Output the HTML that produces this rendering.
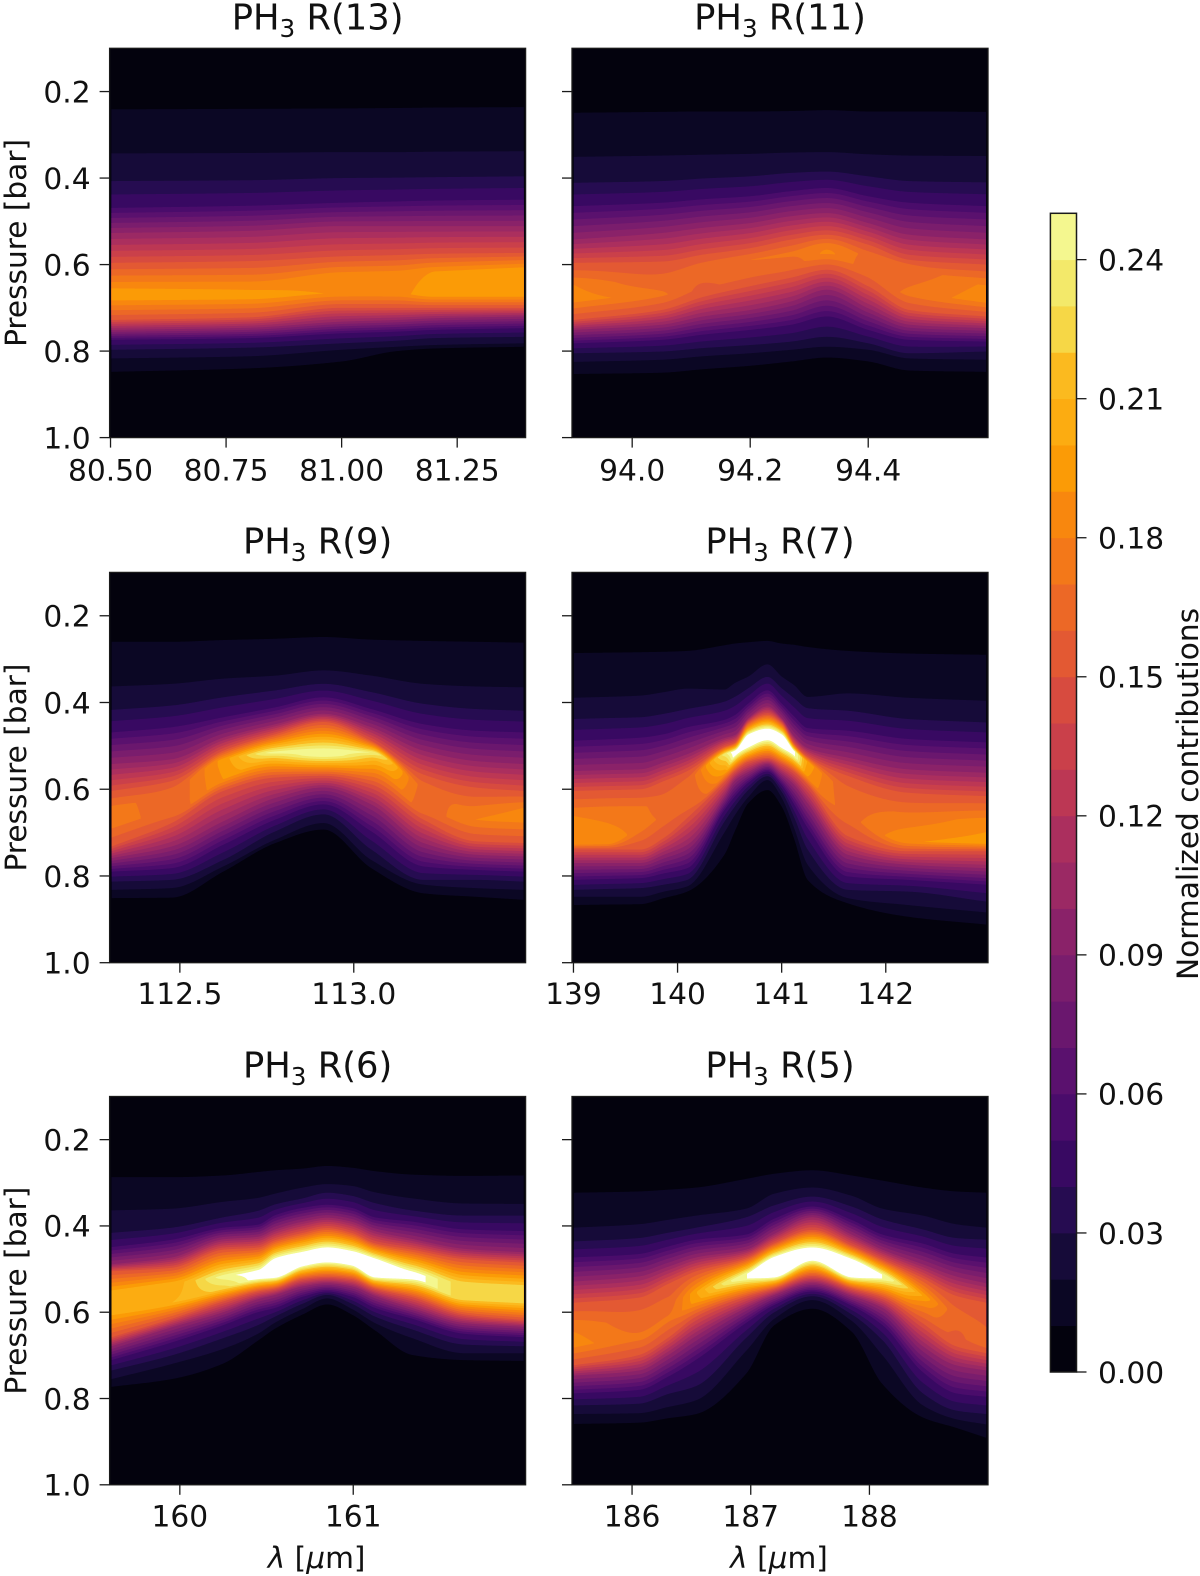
<!DOCTYPE html>
<html lang="en">
<head>
<meta charset="utf-8">
<title>PH3 contribution functions</title>
<style>
html,body{margin:0;padding:0;background:#fff;}
svg{display:block;filter:blur(0.35px);}
text{font-family:"DejaVu Sans","Liberation Sans",sans-serif;fill:#111;}
</style>
</head>
<body>
<svg id="figure" xmlns="http://www.w3.org/2000/svg" width="1200" height="1576" viewBox="0 0 1200 1576"></svg>
<script>
// Shared axis data
const yTicks = [0.2, 0.4, 0.6, 0.8, 1.0];
const yTickLabels = ['0.2', '0.4', '0.6', '0.8', '1.0'];
const yLim = [0.1, 1.0];
const colorTicks = [0, 0.03, 0.06, 0.09, 0.12, 0.15, 0.18, 0.21, 0.24];
const colorTickLabels = ['0.00', '0.03', '0.06', '0.09', '0.12', '0.15', '0.18', '0.21', '0.24'];
const bandWidth = 0.01;
const bandCount = 25;
const bandColors = ['#03020d','#0b0724','#160b39','#260c51','#380962','#4a0c6b','#5a116e','#6a176e','#7a1d6d','#8a2269','#9b2964','#ab2f5e','#bc3754','#ca404a','#d74b3f','#e35933','#ec6826','#f37819','#f8870e','#fb9b06','#fcac11','#fbba1f','#f6d746','#f3e96a','#f4f78f'];

// Each profile row for one wavelength column:
// pressure where the contribution rises through 0.01,0.02,0.03,0.05,0.10,0.15,
// then ridge-top pressure, ridge-top value, ridge-bottom pressure, ridge-bottom value,
// then pressure where it falls through 0.15,0.10,0.05,0.03,0.02,0.01.
const r13Wavelengths = [80.502, 80.8, 81.0, 81.12, 81.2, 81.394];
const r13Profiles = [
[.241,.343,.407,.469,.527,.596,.655,.19,.675,.197,.728,.751,.774,.797,.817,.848],
[.240,.342,.405,.464,.522,.592,.652,.188,.675,.195,.722,.746,.770,.792,.812,.84],
[.239,.34,.40,.457,.511,.581,.62,.182,.666,.189,.70,.732,.759,.782,.797,.824],
[.238,.34,.399,.454,.511,.578,.618,.183,.668,.187,.70,.728,.755,.776,.79,.80],
[.237,.339,.398,.452,.511,.575,.616,.19,.67,.197,.70,.724,.751,.77,.786,.794],
[.236,.338,.396,.45,.511,.573,.608,.192,.67,.197,.70,.72,.747,.767,.782,.79]
];
const r13XTicks = [80.5, 80.75, 81.0, 81.25];
const r13XTickLabels = ['80.50', '80.75', '81.00', '81.25'];
const r13XLim = [80.498, 81.398];

const r11Wavelengths = [93.901, 94.05, 94.12, 94.2, 94.27, 94.33, 94.4, 94.47, 94.5996];
const r11Profiles = [
[.249,.351,.411,.465,.542,.596,.647,.18,.681,.185,.728,.751,.782,.805,.825,.853],
[.247,.348,.407,.457,.527,.593,.63,.163,.67,.172,.705,.739,.774,.801,.82,.85],
[.246,.346,.401,.449,.515,.577,.604,.165,.658,.158,.675,.72,.762,.793,.812,.842],
[.246,.344,.396,.442,.504,.562,.589,.17,.62,.165,.65,.705,.751,.786,.805,.834],
[.245,.341,.388,.43,.488,.542,.573,.172,.604,.165,.63,.685,.739,.778,.797,.824],
[.243,.34,.385,.423,.481,.531,.558,.178,.573,.182,.612,.658,.72,.767,.79,.815],
[.246,.345,.396,.442,.504,.554,.581,.168,.62,.165,.65,.701,.751,.782,.797,.824],
[.246,.348,.407,.457,.531,.589,.604,.165,.67,.172,.705,.739,.774,.805,.817,.845],
[.247,.349,.41,.465,.542,.60,.651,.182,.681,.187,.72,.747,.778,.801,.82,.848]
];
const r11XTicks = [94.0, 94.2, 94.4];
const r11XTickLabels = ['94.0', '94.2', '94.4'];
const r11XLim = [93.898, 94.603];

const r9Wavelengths = [112.304, 112.476, 112.625, 112.775, 112.913, 113.05, 113.2, 113.35, 113.488];
const r9Profiles = [
[.26,.363,.417,.469,.542,.604,.647,.175,.674,.178,.732,.759,.79,.813,.832,.851],
[.26,.357,.407,.457,.531,.581,.604,.165,.658,.165,.678,.732,.782,.809,.828,.85],
[.256,.345,.388,.434,.481,.511,.531,.195,.577,.19,.604,.674,.728,.763,.778,.79],
[.253,.338,.372,.411,.45,.473,.515,.245,.528,.22,.573,.62,.67,.697,.716,.724],
[.249,.326,.357,.388,.426,.445,.512,.249,.521,.249,.569,.596,.635,.658,.678,.693],
[.255,.338,.376,.415,.457,.488,.515,.24,.53,.215,.589,.635,.697,.739,.763,.782],
[.258,.357,.403,.45,.511,.566,.596,.168,.651,.165,.67,.724,.778,.809,.82,.84],
[.26,.363,.415,.465,.535,.596,.643,.172,.67,.18,.72,.751,.786,.809,.828,.848],
[.262,.365,.419,.469,.542,.604,.643,.18,.666,.187,.724,.755,.79,.813,.832,.855]
];
const r9XTicks = [112.5, 113.0];
const r9XTickLabels = ['112.5', '113.0'];
const r9XLim = [112.298, 113.494];

const r7Wavelengths = [139.005, 139.32, 139.645, 139.87, 140.094, 140.45, 140.55, 140.68, 140.864, 141.0, 141.12, 141.249, 141.634, 142.211, 142.963];
const r7Profiles = [
[.286,.389,.438,.488,.558,.604,.662,.18,.724,.19,.739,.77,.809,.832,.848,.867],
[.285,.387,.436,.485,.556,.602,.651,.176,.724,.187,.739,.77,.807,.83,.848,.866],
[.284,.384,.434,.481,.554,.60,.643,.172,.689,.175,.739,.77,.805,.828,.848,.865],
[.283,.376,.426,.473,.538,.581,.625,.165,.662,.168,.712,.751,.794,.82,.836,.851],
[.281,.368,.415,.457,.519,.558,.581,.165,.643,.163,.666,.728,.782,.809,.824,.836],
[.268,.37,.398,.44,.482,.502,.519,.235,.565,.19,.583,.617,.648,.675,.70,.751],
[.264,.355,.387,.429,.475,.493,.512,.255,.522,.255,.558,.58,.617,.64,.66,.697],
[.261,.34,.367,.402,.436,.447,.475,.255,.502,.255,.537,.56,.585,.602,.618,.632],
[.258,.312,.341,.372,.409,.428,.462,.255,.485,.255,.528,.542,.559,.57,.579,.602],
[.264,.34,.367,.402,.436,.447,.475,.255,.503,.255,.542,.565,.59,.606,.62,.64],
[.267,.36,.39,.432,.478,.495,.512,.252,.522,.252,.56,.59,.635,.665,.69,.715],
[.272,.387,.413,.459,.505,.525,.537,.20,.571,.19,.59,.632,.689,.739,.774,.809],
[.281,.379,.419,.465,.527,.569,.604,.165,.658,.168,.708,.751,.801,.832,.851,.863],
[.287,.389,.438,.484,.554,.608,.658,.172,.72,.188,.743,.774,.809,.836,.867,.894],
[.29,.396,.446,.492,.562,.616,.674,.185,.724,.195,.743,.782,.82,.859,.884,.912]
];
const r7XTicks = [139, 140, 141, 142];
const r7XTickLabels = ['139', '140', '141', '142'];
const r7XLim = [138.986, 142.982];

const r6Wavelengths = [159.606, 159.954, 160.25, 160.45, 160.55, 160.71, 160.85, 160.99, 161.125, 161.34, 161.64, 161.983];
const r6Profiles = [
[.287,.364,.416,.449,.489,.505,.554,.205,.602,.205,.658,.679,.711,.735,.755,.773],
[.287,.36,.404,.432,.473,.497,.533,.205,.578,.21,.615,.635,.67,.70,.72,.755],
[.283,.344,.38,.404,.431,.455,.517,.245,.545,.225,.575,.60,.63,.66,.685,.719],
[.275,.335,.365,.397,.425,.45,.505,.255,.522,.255,.552,.57,.60,.63,.65,.666],
[.271,.325,.35,.375,.408,.433,.477,.255,.519,.255,.545,.56,.59,.61,.624,.638],
[.267,.311,.336,.358,.39,.416,.462,.255,.492,.255,.523,.54,.564,.58,.592,.605],
[.261,.303,.323,.351,.381,.405,.452,.255,.483,.255,.518,.533,.552,.56,.568,.582],
[.265,.307,.33,.358,.39,.416,.46,.255,.49,.255,.523,.54,.564,.58,.592,.605],
[.273,.322,.347,.38,.412,.44,.477,.255,.518,.255,.545,.562,.59,.61,.625,.642],
[.281,.336,.364,.39,.43,.455,.508,.255,.522,.255,.565,.59,.615,.64,.66,.699],
[.284,.348,.376,.408,.453,.477,.533,.225,.57,.225,.605,.625,.65,.675,.695,.711],
[.283,.349,.376,.412,.461,.485,.541,.225,.574,.23,.618,.634,.658,.679,.695,.713]
];
const r6XTicks = [160, 161];
const r6XTickLabels = ['160', '161'];
const r6XLim = [159.595, 161.994];

const r5Wavelengths = [185.51, 186.06, 186.3, 186.54, 186.96, 187.2, 187.52, 187.85, 188.11, 188.45, 188.73, 188.983];
const r5Profiles = [
[.323,.404,.436,.473,.529,.578,.634,.178,.675,.185,.723,.747,.788,.816,.836,.859],
[.32,.396,.428,.465,.517,.566,.61,.165,.662,.172,.699,.735,.78,.812,.834,.856],
[.316,.386,.416,.448,.495,.535,.58,.165,.62,.172,.66,.70,.75,.79,.82,.846],
[.311,.376,.404,.432,.473,.505,.554,.20,.574,.195,.61,.655,.71,.771,.804,.836],
[.291,.36,.38,.42,.455,.475,.512,.25,.522,.25,.564,.59,.625,.66,.69,.743],
[.279,.325,.352,.383,.418,.44,.473,.255,.518,.255,.545,.56,.583,.60,.615,.63],
[.271,.311,.332,.355,.38,.409,.452,.255,.479,.255,.516,.533,.552,.563,.572,.592],
[.283,.33,.355,.386,.42,.445,.478,.255,.518,.255,.545,.562,.585,.605,.62,.645],
[.295,.36,.385,.42,.455,.478,.513,.25,.522,.25,.565,.59,.63,.665,.70,.767],
[.311,.376,.408,.441,.489,.521,.562,.20,.586,.18,.626,.679,.739,.788,.816,.844],
[.32,.396,.428,.465,.517,.562,.602,.165,.658,.158,.679,.723,.788,.828,.848,.868],
[.323,.404,.432,.473,.533,.578,.634,.16,.67,.17,.695,.735,.796,.836,.86,.891]
];
const r5XTicks = [186, 187, 188];
const r5XTickLabels = ['186', '187', '188'];
const r5XLim = [185.494, 188.999];

// Level of each profile row entry that is a fixed-level crossing
const riseLevels = [0.01, 0.02, 0.03, 0.05, 0.10, 0.15];
const fallLevels = [0.15, 0.10, 0.05, 0.03, 0.02, 0.01];

const panels = [
  {id:'r13', title:'R(13)', wavelengths:r13Wavelengths, profiles:r13Profiles, xTicks:r13XTicks, xTickLabels:r13XTickLabels, xLim:r13XLim, left:109.6, top:48.3, bottom:437.6, yLabels:true, xTitle:false, xLabelGap:43},
  {id:'r11', title:'R(11)', wavelengths:r11Wavelengths, profiles:r11Profiles, xTicks:r11XTicks, xTickLabels:r11XTickLabels, xLim:r11XLim, left:572, top:48.3, bottom:437.6, yLabels:false, xTitle:false, xLabelGap:43},
  {id:'r9', title:'R(9)', wavelengths:r9Wavelengths, profiles:r9Profiles, xTicks:r9XTicks, xTickLabels:r9XTickLabels, xLim:r9XLim, left:109.6, top:572.4, bottom:962.7, yLabels:true, xTitle:false, xLabelGap:41.5},
  {id:'r7', title:'R(7)', wavelengths:r7Wavelengths, profiles:r7Profiles, xTicks:r7XTicks, xTickLabels:r7XTickLabels, xLim:r7XLim, left:572, top:572.4, bottom:962.7, yLabels:false, xTitle:false, xLabelGap:41.5},
  {id:'r6', title:'R(6)', wavelengths:r6Wavelengths, profiles:r6Profiles, xTicks:r6XTicks, xTickLabels:r6XTickLabels, xLim:r6XLim, left:109.6, top:1096.5, bottom:1484.8, yLabels:true, xTitle:true, xLabelGap:41.5},
  {id:'r5', title:'R(5)', wavelengths:r5Wavelengths, profiles:r5Profiles, xTicks:r5XTicks, xTickLabels:r5XTickLabels, xLim:r5XLim, left:572, top:1096.5, bottom:1484.8, yLabels:false, xTitle:true, xLabelGap:41.5}
];

const NS = 'http://www.w3.org/2000/svg';
const figure = document.getElementById('figure');
const AXIS_W = 416;
const TICK_FONT = 29.7;
const TITLE_FONT = 35.3;
const LABEL_FONT = 29.6;
const INK = '#1a1a1a';

function el(tag, parent, attrs) {
  const node = document.createElementNS(NS, tag);
  for (const k in attrs) node.setAttribute(k, attrs[k]);
  parent.appendChild(node);
  return node;
}

// Monotone cubic interpolation along wavelength
function tangents(xs, ys) {
  const n = xs.length, d = [], m = new Array(n).fill(0);
  for (let i = 0; i < n - 1; i++) d.push((ys[i + 1] - ys[i]) / (xs[i + 1] - xs[i]));
  m[0] = d[0]; m[n - 1] = d[n - 2];
  for (let i = 1; i < n - 1; i++) {
    if (d[i - 1] * d[i] <= 0) { m[i] = 0; continue; }
    const h0 = xs[i] - xs[i - 1], h1 = xs[i + 1] - xs[i];
    m[i] = (h0 + h1) * 3 / ((2 * h1 + h0) / d[i - 1] + (h1 + 2 * h0) / d[i]);
  }
  return m;
}
function hermite(xs, ys, ms, x) {
  let i = 0;
  while (i < xs.length - 2 && x > xs[i + 1]) i++;
  const h = xs[i + 1] - xs[i], t = Math.max(0, Math.min(1, (x - xs[i]) / h));
  const t2 = t * t, t3 = t2 * t;
  return (2 * t3 - 3 * t2 + 1) * ys[i] + (t3 - 2 * t2 + t) * h * ms[i] + (-2 * t3 + 3 * t2) * ys[i + 1] + (t3 - t2) * h * ms[i + 1];
}

// Build the (pressure, value) polyline of one column from an interpolated row
function columnProfile(row) {
  const pts = [];
  let last = -1;
  function push(p, v) { p = Math.max(p, last + 1e-4); last = p; pts.push([p, v]); }
  riseLevels.forEach(function (lv, i) { push(row[i], lv); });
  push(row[6], row[7]);
  push(row[8], row[9]);
  fallLevels.forEach(function (lv, i) { push(row[10 + i], lv); });
  return pts;
}
// Pressure interval where the column value reaches a level
function levelInterval(pts, level) {
  let a = -1, b = -1;
  for (let i = 0; i < pts.length; i++) {
    if (pts[i][1] >= level - 1e-9) { a = i; break; }
  }
  if (a < 0) return null;
  for (let i = pts.length - 1; i >= 0; i--) {
    if (pts[i][1] >= level - 1e-9) { b = i; break; }
  }
  function cross(i, j) {
    const t = (level - pts[i][1]) / (pts[j][1] - pts[i][1]);
    return pts[i][0] + t * (pts[j][0] - pts[i][0]);
  }
  const pa = a === 0 ? pts[0][0] : cross(a - 1, a);
  const pb = b === pts.length - 1 ? pts[b][0] : cross(b + 1, b);
  return [pa, pb];
}

function drawPanel(panel) {
  const xScale = function (w) { return panel.left + (w - panel.xLim[0]) / (panel.xLim[1] - panel.xLim[0]) * AXIS_W; };
  const yScale = function (p) { return panel.top + (p - yLim[0]) / (yLim[1] - yLim[0]) * (panel.bottom - panel.top); };

  const g = el('g', figure, {});
  
  

  const bg = el('rect', g, {x: panel.left, y: panel.top, width: AXIS_W, height: panel.bottom - panel.top, fill: bandColors[0]});
  
  

  // Columns across the wavelength range
  const w0 = panel.wavelengths[0], w1 = panel.wavelengths[panel.wavelengths.length - 1];
  const series = [];
  for (let j = 0; j < panel.profiles[0].length; j++) {
    const ys = panel.profiles.map(function (r) { return r[j]; });
    series.push({ys: ys, ms: tangents(panel.wavelengths, ys)});
  }
  const nCols = Math.max(2, Math.round(xScale(w1) - xScale(w0)));
  const columns = [];
  for (let c = 0; c <= nCols; c++) {
    const w = w0 + (w1 - w0) * c / nCols;
    const row = series.map(function (s) { return hermite(panel.wavelengths, s.ys, s.ms, w); });
    columns.push({w: w, pts: columnProfile(row)});
  }

  // Filled contour bands painted from the lowest level upward
  for (let i = 1; i <= bandCount; i++) {
    const level = i * bandWidth;
    let d = '';
    let upper = [], lower = [];
    const flush = function () {
      if (upper.length > 1) {
        d += 'M' + upper.join('L') + 'L' + lower.reverse().join('L') + 'Z';
      }
      upper = []; lower = [];
    };
    columns.forEach(function (col) {
      const iv = levelInterval(col.pts, level);
      if (!iv) { flush(); return; }
      const x = xScale(col.w).toFixed(1);
      upper.push(x + ' ' + yScale(iv[0]).toFixed(2));
      lower.push(x + ' ' + yScale(iv[1]).toFixed(2));
    });
    flush();
    if (!d) continue;
    const path = el('path', g, {d: d, fill: i < bandCount ? bandColors[i] : '#ffffff'});
    
    
  }

  const frame = el('rect', g, {x: panel.left, y: panel.top, width: AXIS_W, height: panel.bottom - panel.top, fill: 'none', stroke: INK, 'stroke-width': 1.3});
  
  

  // Y ticks
  yTicks.forEach(function (p, i) {
    const y = yScale(p);
    const tick = el('line', g, {x1: panel.left - 10, x2: panel.left, y1: y, y2: y, stroke: INK, 'stroke-width': 1.3});
    
    
    if (panel.yLabels) {
      const t = el('text', g, {x: panel.left - 19, y: y + 10.8, 'text-anchor': 'end', 'font-size': TICK_FONT});
      t.textContent = yTickLabels[i];
      
      
    }
  });

  // X ticks
  panel.xTicks.forEach(function (w, i) {
    const x = xScale(w);
    const tick = el('line', g, {x1: x, x2: x, y1: panel.bottom, y2: panel.bottom + 10, stroke: INK, 'stroke-width': 1.3});
    
    
    const t = el('text', g, {x: x, y: panel.bottom + panel.xLabelGap, 'text-anchor': 'middle', 'font-size': TICK_FONT});
    t.textContent = panel.xTickLabels[i];
    
    
  });

  // Title
  const title = el('text', g, {x: panel.left + AXIS_W / 2, y: panel.top - 19, 'text-anchor': 'middle', 'font-size': TITLE_FONT});
  
  
  const t1 = el('tspan', title, {});
  t1.textContent = 'PH';
  const t2 = el('tspan', title, {dy: 7.5, 'font-size': TITLE_FONT * 0.7});
  t2.textContent = '3';
  const t3 = el('tspan', title, {dy: -7.5});
  t3.textContent = ' ' + panel.title;

  // Axis titles
  if (panel.yLabels) {
    const cy = (panel.top + panel.bottom) / 2;
    const yl = el('text', g, {x: 0, y: 0, 'text-anchor': 'middle', 'font-size': LABEL_FONT, transform: 'translate(26 ' + cy + ') rotate(-90)'});
    yl.textContent = 'Pressure [bar]';
    
    
  }
  if (panel.xTitle) {
    const xl = el('text', g, {x: panel.left + AXIS_W / 2 - 1, y: panel.bottom + 83, 'text-anchor': 'middle', 'font-size': LABEL_FONT});
    
    
    const a = el('tspan', xl, {'font-style': 'italic'});
    a.textContent = 'λ';
    const b = el('tspan', xl, {});
    b.textContent = ' [';
    const c = el('tspan', xl, {'font-style': 'italic'});
    c.textContent = 'μ';
    const e = el('tspan', xl, {});
    e.textContent = 'm]';
  }
}

panels.forEach(drawPanel);

// Colorbar
(function () {
  const cbLeft = 1050.4, cbWidth = 26.1, cbTop = 213.3, cbBottom = 1372;
  const maxVal = bandCount * bandWidth;
  const cScale = function (v) { return cbBottom - v / maxVal * (cbBottom - cbTop); };
  const g = el('g', figure, {});
  
  
  bandColors.forEach(function (color, i) {
    const y1 = cScale((i + 1) * bandWidth), y0 = cScale(i * bandWidth);
    const r = el('rect', g, {x: cbLeft, y: y1, width: cbWidth, height: y0 - y1 + 0.4, fill: color});
    
    
  });
  const frame = el('rect', g, {x: cbLeft, y: cbTop, width: cbWidth, height: cbBottom - cbTop, fill: 'none', stroke: INK, 'stroke-width': 1.5});
  
  
  colorTicks.forEach(function (v, i) {
    const y = cScale(v);
    const tick = el('line', g, {x1: cbLeft + cbWidth, x2: cbLeft + cbWidth + 10, y1: y, y2: y, stroke: INK, 'stroke-width': 1.3});
    
    
    const t = el('text', g, {x: cbLeft + cbWidth + 21.5, y: y + 10.8, 'font-size': TICK_FONT});
    t.textContent = colorTickLabels[i];
    
    
  });
  const label = el('text', g, {x: 0, y: 0, 'text-anchor': 'middle', 'font-size': LABEL_FONT, transform: 'translate(1198 794) rotate(-90)'});
  label.textContent = 'Normalized contributions';
  
  
})();
</script>
</body>
</html>
